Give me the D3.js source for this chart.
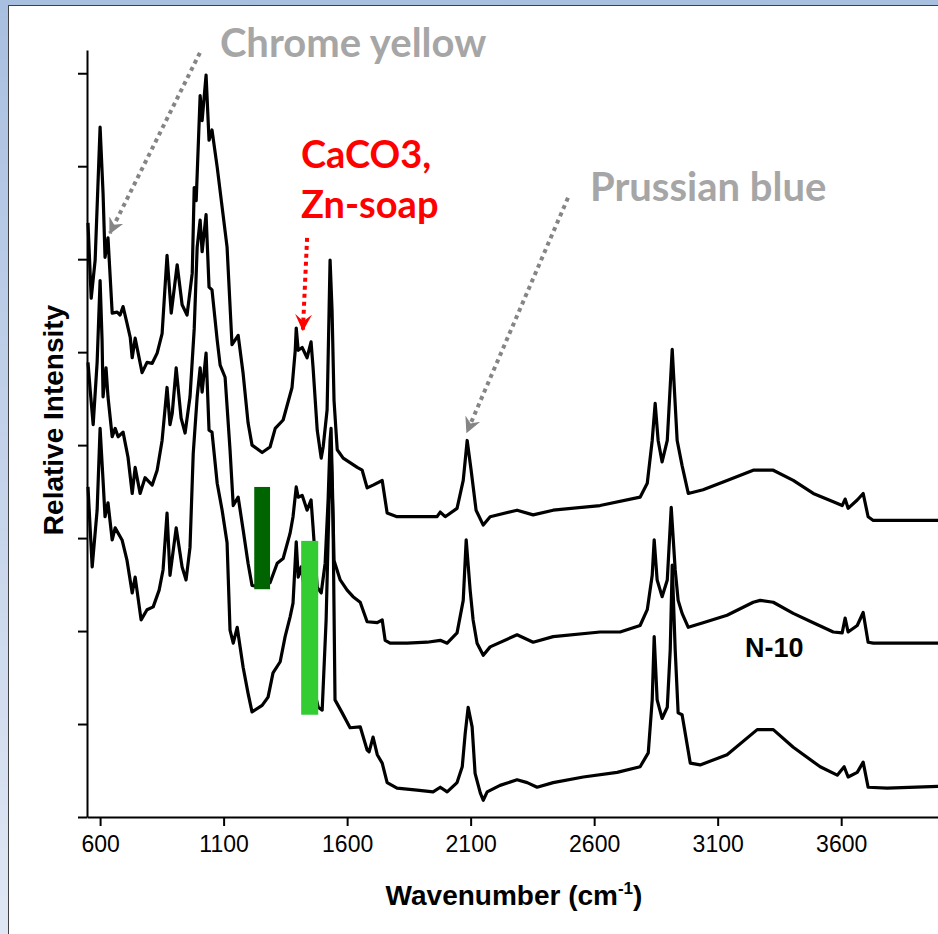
<!DOCTYPE html>
<html>
<head>
<meta charset="utf-8">
<script src="https://cdnjs.cloudflare.com/ajax/libs/d3/7.8.5/d3.min.js"></script>
<style>
  body { margin: 0; background: #fff; }
  svg { display: block; }
</style>
</head>
<body>
<div class="svgWrap"></div>
<script>
// tick values
var xTicks = [600, 1100, 1600, 2100, 2600, 3100, 3600];
var yTicks = [0, 1, 2, 3, 4, 5, 6, 7, 8];

// top spectrum
var wnA = [551,564,580,600,612,620,632,649,669,681,693,709,722,730,742,770,790,811,831,851,871,888,912,932,952,973,981,989,1005,1013,1029,1041,1053,1074,1094,1114,1134,1159,1179,1199,1215,1256,1288,1309,1341,1377,1390,1394,1402,1418,1438,1454,1462,1479,1495,1503,1519,1527,1531,1539,1547,1560,1584,1641,1661,1681,1705,1742,1762,1802,1896,1964,1977,1997,2045,2070,2086,2102,2122,2151,2179,2288,2353,2434,2624,2786,2815,2835,2847,2859,2875,2896,2916,2936,2956,2981,3041,3138,3244,3325,3406,3487,3568,3604,3616,3628,3665,3689,3709,3730,4000];
var intA = [6.39,5.58,5.99,7.42,6.71,6.02,6.23,5.42,5.43,5.40,5.49,5.31,5.16,4.94,5.15,4.78,4.89,4.88,4.99,5.20,6.04,5.42,5.94,5.51,5.40,5.85,6.77,6.63,7.76,7.49,7.98,7.28,7.39,6.99,6.56,6.13,5.08,5.18,4.77,4.24,4.00,3.92,3.98,4.18,4.27,4.62,5.02,5.26,5.02,5.05,4.94,5.11,4.84,4.16,3.86,3.98,4.38,5.45,5.99,5.45,4.48,3.95,3.86,3.76,3.73,3.54,3.57,3.62,3.27,3.23,3.23,3.23,3.28,3.23,3.32,3.62,4.05,3.73,3.30,3.14,3.23,3.30,3.25,3.30,3.35,3.44,3.59,4.05,4.45,4.05,3.82,4.05,5.03,4.05,3.78,3.48,3.52,3.62,3.73,3.73,3.62,3.48,3.39,3.35,3.42,3.32,3.41,3.48,3.23,3.19,3.19];

// middle spectrum
var wnB = [551,560,572,588,600,608,612,624,632,649,661,673,693,713,730,742,762,782,811,831,851,871,883,892,908,928,944,964,981,993,1005,1013,1029,1041,1053,1074,1086,1106,1126,1139,1159,1179,1199,1215,1256,1288,1317,1341,1369,1381,1394,1402,1418,1438,1454,1462,1479,1495,1511,1523,1531,1535,1539,1547,1572,1600,1624,1653,1681,1722,1742,1754,1774,1843,1924,1977,2005,2045,2070,2082,2098,2110,2126,2151,2179,2288,2353,2434,2624,2705,2786,2815,2835,2843,2855,2875,2896,2912,2928,2940,2956,2981,3041,3138,3244,3272,3325,3406,3487,3568,3604,3616,3628,3665,3689,3709,3730,4000];
var intB = [4.89,4.59,4.22,4.89,5.77,5.13,4.52,4.83,4.52,4.09,4.18,4.09,4.14,3.87,3.48,3.76,3.48,3.65,3.57,3.73,4.05,4.62,4.22,4.34,4.83,4.29,4.13,4.52,5.25,6.13,6.42,6.08,6.48,5.70,5.67,5.13,4.86,4.73,3.95,3.35,3.44,3.09,2.73,2.49,2.47,2.52,2.73,2.78,3.05,3.23,3.55,3.44,3.46,3.30,3.41,3.12,2.47,2.41,2.73,3.41,4.05,4.18,3.73,2.76,2.55,2.44,2.37,2.31,2.10,2.09,2.12,1.90,1.87,1.87,1.88,1.90,1.87,1.98,2.33,2.98,2.44,2.12,1.87,1.74,1.83,1.96,1.88,1.94,1.99,1.99,2.06,2.23,2.60,2.98,2.55,2.37,2.55,3.33,2.66,2.33,2.19,2.04,2.09,2.17,2.31,2.33,2.31,2.19,2.09,1.99,1.98,2.14,1.99,2.06,2.20,1.88,1.87,1.87];

// bottom spectrum
var wnC = [551,568,588,600,612,620,632,649,661,689,709,730,742,766,790,815,839,855,871,883,908,932,948,964,977,993,1005,1013,1029,1041,1053,1074,1094,1114,1126,1139,1155,1179,1199,1215,1256,1280,1300,1329,1349,1369,1381,1394,1402,1414,1434,1458,1483,1499,1515,1527,1535,1543,1551,1580,1612,1653,1681,1689,1705,1722,1742,1762,1802,1883,1948,1977,2005,2045,2066,2078,2090,2106,2118,2139,2151,2167,2219,2288,2329,2369,2434,2556,2693,2786,2819,2835,2843,2855,2875,2896,2908,2916,2928,2940,2956,2989,3029,3138,3260,3325,3406,3515,3584,3612,3628,3665,3689,3709,3786,4000];
var intC = [3.55,2.69,3.30,4.18,3.62,3.23,3.38,2.98,3.11,2.98,2.76,2.41,2.58,2.12,2.23,2.26,2.44,2.66,3.27,2.60,3.11,2.69,2.55,2.90,3.91,4.52,4.83,4.57,4.99,4.16,4.14,3.59,3.30,2.95,2.01,1.87,2.04,1.61,1.33,1.13,1.20,1.29,1.55,1.67,1.94,2.15,2.30,2.96,2.58,2.69,2.33,1.47,1.18,1.15,2.12,3.41,3.95,3.19,1.26,1.12,0.96,0.97,0.72,0.70,0.86,0.67,0.58,0.37,0.31,0.29,0.27,0.32,0.27,0.37,0.54,0.90,1.18,0.97,0.47,0.26,0.18,0.27,0.34,0.40,0.37,0.32,0.37,0.43,0.48,0.54,0.69,1.26,1.94,1.26,1.06,1.18,1.80,2.71,1.80,1.12,1.10,0.58,0.56,0.67,0.94,0.94,0.75,0.54,0.45,0.54,0.43,0.48,0.59,0.32,0.31,0.33];

// highlighted bands (wavenumber range, intensity range)
var bandStart = [1224, 1414];
var bandEnd = [1288, 1483];
var bandTop = [3.55, 2.97];
var bandBottom = [2.45, 1.10];
var bandColor = ['#006400', '#33cc33'];

var width = 938, height = 934;

var svg = d3.select('.svgWrap')
  .append('svg')
  .attr('width', width)
  .attr('height', height);

//Frame and background
var defs = svg.append('defs');
var grad = defs.append('linearGradient')
  .attr('id', 'bg')
  .attr('x1', 0).attr('y1', 0).attr('x2', 0).attr('y2', 1);
grad.append('stop').attr('offset', '0%').attr('stop-color', '#a9bfe0');
grad.append('stop').attr('offset', '100%').attr('stop-color', '#dfe7f4');

svg.append('rect')
  .attr('width', width)
  .attr('height', height)
  .attr('fill', 'url(#bg)');
svg.append('rect')
  .attr('x', 8.5)
  .attr('y', 5.5)
  .attr('width', width)
  .attr('height', height)
  .attr('fill', '#fff')
  .attr('stroke', '#404040')
  .attr('stroke-width', 1);

//Arrow heads
defs.append('marker')
  .attr('id', 'grayHead')
  .attr('viewBox', '0 0 12 12')
  .attr('refX', 11).attr('refY', 6)
  .attr('markerUnits', 'userSpaceOnUse')
  .attr('markerWidth', 16).attr('markerHeight', 16)
  .attr('orient', 'auto')
  .append('path')
  .attr('d', 'M0,0 L12,6 L0,12 L4,6 Z')
  .attr('fill', '#858585');

defs.append('marker')
  .attr('id', 'redHead')
  .attr('viewBox', '0 0 12 12')
  .attr('refX', 11).attr('refY', 6)
  .attr('markerUnits', 'userSpaceOnUse')
  .attr('markerWidth', 17).attr('markerHeight', 17)
  .attr('orient', 'auto')
  .append('path')
  .attr('d', 'M0,0 L12,6 L0,12 L5,6 Z')
  .attr('fill', '#ff0000');

//Scales
var x = d3.scaleLinear()
  .domain([547, 4000])
  .range([87, 940]);

var y = d3.scaleLinear()
  .domain([0, 8.25])
  .range([817, 50]);

//Spectra
var line = d3.line()
  .x(function(d){ return x(d[0]); })
  .y(function(d){ return y(d[1]); });

var spectra = [d3.zip(wnA, intA), d3.zip(wnB, intB), d3.zip(wnC, intC)];

svg.selectAll('.spectrum')
  .data(spectra)
  .enter()
  .append('path')
  .attr('class', 'spectrum')
  .attr('d', line)
  .attr('fill', 'none')
  .attr('stroke', '#000')
  .attr('stroke-width', 3.2)
  .attr('stroke-linejoin', 'round');

//Green bands
svg.selectAll('.band')
  .data(bandStart)
  .enter()
  .append('rect')
  .attr('class', 'band')
  .attr('x', function(d){ return x(d); })
  .attr('width', function(d, i){ return x(bandEnd[i]) - x(d); })
  .attr('y', function(d, i){ return y(bandTop[i]); })
  .attr('height', function(d, i){ return y(bandBottom[i]) - y(bandTop[i]); })
  .attr('fill', function(d, i){ return bandColor[i]; });

//Y Axis
var yAxis = svg.append('g')
  .attr('transform', 'translate(87,0)')
  .call(d3.axisLeft(y).tickValues(yTicks).tickSize(9).tickSizeOuter(0).tickFormat(''));
yAxis.selectAll('path, line').attr('stroke', '#000').attr('stroke-width', 2);

//X Axis
var xAxis = svg.append('g')
  .attr('transform', 'translate(0,817)')
  .call(d3.axisBottom(x).tickValues(xTicks).tickSize(9).tickSizeOuter(0).tickPadding(10).tickFormat(d3.format('d')));
xAxis.selectAll('path, line').attr('stroke', '#000').attr('stroke-width', 2);
xAxis.selectAll('text')
  .attr('fill', '#000')
  .style('font-family', '"Liberation Sans", Arial, sans-serif')
  .style('font-size', '23px');

//Axis titles
svg.append('text')
  .attr('transform', 'translate(63,420) rotate(-90)')
  .attr('text-anchor', 'middle')
  .style('font-family', '"Liberation Sans", Arial, sans-serif')
  .style('font-weight', 'bold')
  .style('font-size', '28px')
  .text('Relative Intensity');

var xt = svg.append('text')
  .attr('x', 514)
  .attr('y', 905)
  .attr('text-anchor', 'middle')
  .style('font-family', '"Liberation Sans", Arial, sans-serif')
  .style('font-weight', 'bold')
  .style('font-size', '28px');
xt.append('tspan').text('Wavenumber (cm');
xt.append('tspan').attr('dy', -11).style('font-size', '17px').text('-1');
xt.append('tspan').attr('dy', 11).text(')');

//Annotations
var annFont = 'Lato, "Open Sans", sans-serif';

svg.append('line')
  .attr('x1', x(1004)).attr('y1', y(8.22))
  .attr('x2', x(640)).attr('y2', y(6.28))
  .attr('stroke', '#858585')
  .attr('stroke-width', 4)
  .attr('stroke-dasharray', '4 4')
  .attr('marker-end', 'url(#grayHead)');

svg.append('line')
  .attr('x1', x(2494)).attr('y1', y(6.66))
  .attr('x2', x(2085)).attr('y2', y(4.14))
  .attr('stroke', '#858585')
  .attr('stroke-width', 4)
  .attr('stroke-dasharray', '4 4')
  .attr('marker-end', 'url(#grayHead)');

svg.append('line')
  .attr('x1', x(1438)).attr('y1', y(6.23))
  .attr('x2', x(1421)).attr('y2', y(5.24))
  .attr('stroke', '#ff0000')
  .attr('stroke-width', 4)
  .attr('stroke-dasharray', '4 4')
  .attr('marker-end', 'url(#redHead)');

svg.append('text')
  .attr('x', x(1085)).attr('y', y(8.17))
  .attr('fill', '#a6a6a6')
  .style('font-family', annFont)
  .style('font-weight', 'bold')
  .style('font-size', '40px')
  .text('Chrome yellow');

svg.append('text')
  .attr('x', x(2583)).attr('y', y(6.63))
  .attr('fill', '#a6a6a6')
  .style('font-family', annFont)
  .style('font-weight', 'bold')
  .style('font-size', '40px')
  .text('Prussian blue');

svg.append('text')
  .attr('x', x(1413)).attr('y', y(6.98))
  .attr('fill', '#ff0000')
  .style('font-family', annFont)
  .style('font-weight', 'bold')
  .style('font-size', '38px')
  .text('CaCO3,');

svg.append('text')
  .attr('x', x(1413)).attr('y', y(6.44))
  .attr('fill', '#ff0000')
  .style('font-family', annFont)
  .style('font-weight', 'bold')
  .style('font-size', '38px')
  .text('Zn-soap');

svg.append('text')
  .attr('x', x(3211)).attr('y', y(1.72))
  .attr('fill', '#000')
  .style('font-family', '"Liberation Sans", Arial, sans-serif')
  .style('font-weight', 'bold')
  .style('font-size', '27px')
  .text('N-10');
</script>
</body>
</html>
